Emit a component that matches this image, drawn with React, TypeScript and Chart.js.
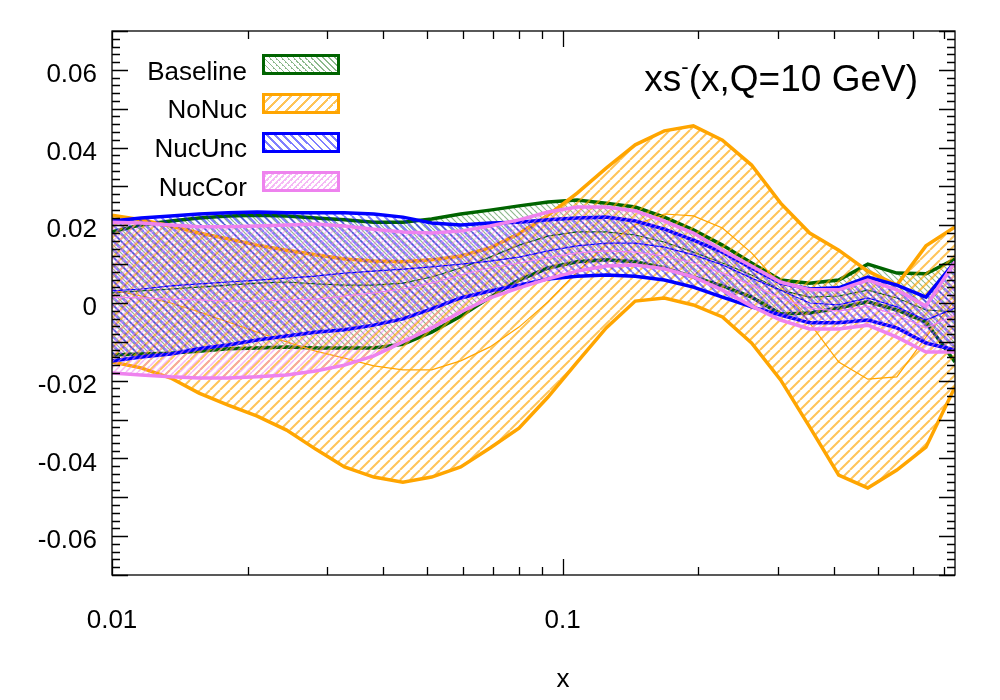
import { useEffect, useRef } from 'react'
import { Chart, registerables } from 'chart.js'

Chart.register(...registerables)

// x grid (log-spaced) and the four bands
const xGrid = [
  0.01, 0.0116, 0.0135, 0.0156, 0.0181, 0.021, 0.0244, 0.0283, 0.0328, 0.0381,
  0.0442, 0.0512, 0.0594, 0.069, 0.08, 0.0928, 0.1077, 0.1249, 0.1449, 0.1681,
  0.195, 0.2262, 0.2625, 0.3045, 0.3532, 0.4098, 0.4754, 0.5515, 0.6399, 0.7423,
]

const baselineUpper = [
  0.0183, 0.0201, 0.0211, 0.0219, 0.0224, 0.0226, 0.0224, 0.0219, 0.0214, 0.0208,
  0.0208, 0.0216, 0.0229, 0.0239, 0.025, 0.026, 0.0265, 0.0257, 0.0247, 0.0221,
  0.0188, 0.0149, 0.0103, 0.0059, 0.0051, 0.0059, 0.01, 0.0077, 0.0075, 0.0113,
]
const baselineLower = [
  -0.0134, -0.0131, -0.0129, -0.0124, -0.0118, -0.0116, -0.0113, -0.0116, -0.0116, -0.0116,
  -0.0106, -0.0075, -0.0034, 0.0015, 0.0059, 0.009, 0.0106, 0.0111, 0.0106, 0.009,
  0.0067, 0.0044, 0.0015, -0.0028, -0.0026, -0.0013, 0.0003, -0.0018, -0.0049, -0.0152,
]
const baselineCentral = [
  0.0026, 0.0031, 0.0036, 0.0041, 0.0046, 0.0051, 0.0054, 0.0049, 0.0046, 0.0046,
  0.0051, 0.0067, 0.009, 0.0118, 0.0149, 0.0172, 0.0183, 0.0183, 0.0175, 0.0157,
  0.0131, 0.0103, 0.0072, 0.0033, 0.0015, 0.0018, 0.0033, 0.0013, -0.0018, -0.0023,
]

const noNucUpper = [
  0.0226, 0.0214, 0.0198, 0.018, 0.0165, 0.0149, 0.0136, 0.0124, 0.0113, 0.0108,
  0.0106, 0.0111, 0.0121, 0.0142, 0.0178, 0.0226, 0.0283, 0.0347, 0.0407, 0.0443,
  0.0456, 0.0419, 0.0355, 0.0257, 0.018, 0.0136, 0.0082, 0.0046, 0.0147, 0.0196,
]
const noNucLower = [
  -0.0152, -0.0167, -0.0193, -0.0232, -0.0263, -0.0291, -0.0327, -0.0376, -0.0422, -0.0448,
  -0.0461, -0.0448, -0.0422, -0.0373, -0.0322, -0.0242, -0.0152, -0.0064, 0.0005, 0.0013,
  -0.0005, -0.0036, -0.0103, -0.0198, -0.0319, -0.0443, -0.0476, -0.043, -0.0371, -0.0216,
]
const noNucCentral = [
  0.0033, 0.0018, 0.0, -0.0023, -0.0049, -0.0075, -0.01, -0.0124, -0.0142, -0.0162,
  -0.0172, -0.0172, -0.0149, -0.0113, -0.0062, 0.0003, 0.008, 0.0149, 0.0201, 0.0229,
  0.0224, 0.0193, 0.0129, 0.0046, -0.0051, -0.0152, -0.0196, -0.019, -0.0088, 0.0008,
]

const nucUncUpper = [
  0.0211, 0.0219, 0.0224, 0.0229, 0.0232, 0.0234, 0.0232, 0.0232, 0.0232, 0.0229,
  0.0221, 0.0206, 0.0201, 0.0206, 0.0208, 0.0214, 0.0219, 0.0221, 0.0211, 0.019,
  0.0162, 0.0131, 0.009, 0.0051, 0.0036, 0.0039, 0.0067, 0.0046, 0.0015, 0.0106,
]
const nucUncLower = [
  -0.0149, -0.0139, -0.0131, -0.0118, -0.0108, -0.0095, -0.0085, -0.0075, -0.0069, -0.0057,
  -0.0041, -0.0015, 0.0013, 0.0031, 0.0046, 0.0062, 0.0069, 0.0072, 0.0069, 0.0059,
  0.0041, 0.0015, -0.001, -0.0031, -0.0051, -0.0051, -0.0044, -0.0064, -0.0103, -0.0121,
]
const nucUncCentral = [
  0.0031, 0.0036, 0.0044, 0.0049, 0.0054, 0.0059, 0.0064, 0.0069, 0.0077, 0.0082,
  0.0087, 0.0093, 0.01, 0.0108, 0.0118, 0.0134, 0.0147, 0.0154, 0.0154, 0.0144,
  0.0124, 0.0098, 0.0064, 0.0033, 0.0, -0.0005, 0.0013, -0.001, -0.0044, -0.0013,
]

const nucCorUpper = [
  0.0208, 0.0206, 0.0201, 0.0196, 0.0196, 0.0198, 0.0201, 0.0203, 0.0198, 0.019,
  0.0183, 0.018, 0.0185, 0.0198, 0.0214, 0.0234, 0.0247, 0.0247, 0.0237, 0.0211,
  0.018, 0.0136, 0.0095, 0.0054, 0.0034, 0.0034, 0.0059, 0.0034, -0.0008, 0.0106,
]
const nucCorLower = [
  -0.018, -0.0185, -0.019, -0.0193, -0.0193, -0.019, -0.0185, -0.0175, -0.016, -0.0136,
  -0.01, -0.0064, -0.0023, 0.0013, 0.0039, 0.0062, 0.0082, 0.0095, 0.0098, 0.0088,
  0.0067, 0.0033, -0.0008, -0.0044, -0.0067, -0.0067, -0.0057, -0.0088, -0.0126, -0.0126,
]
const nucCorCentral = [
  0.0015, 0.0013, 0.001, 0.0008, 0.0005, 0.0005, 0.0008, 0.001, 0.0018, 0.0026,
  0.0036, 0.0051, 0.0072, 0.009, 0.0103, 0.0116, 0.0129, 0.0134, 0.0131, 0.0121,
  0.0103, 0.0077, 0.0046, 0.0013, -0.0013, -0.0021, -0.0008, -0.0031, -0.0064, -0.0031,
]

const yTickValues = [-0.06, -0.04, -0.02, 0, 0.02, 0.04, 0.06]
const xTickLabels = [0.01, 0.1]
const xTickMarks = [
  0.01, 0.02, 0.03, 0.04, 0.05, 0.06, 0.07, 0.08, 0.09,
  0.1, 0.2, 0.3, 0.4, 0.5, 0.6, 0.7,
]

const FONT = '"Liberation Sans", Arial, Helvetica, sans-serif'

const bands = [
  {
    label: 'Baseline', upper: baselineUpper, lower: baselineLower, central: baselineCentral,
    color: '#006400', hatch: 'rgba(0,100,0,0.45)', spacing: 6, hatchWidth: 1.2, forward: false,
  },
  {
    label: 'NoNuc', upper: noNucUpper, lower: noNucLower, central: noNucCentral,
    color: '#FFA500', hatch: 'rgba(255,165,0,0.65)', spacing: 10, hatchWidth: 2, forward: true,
  },
  {
    label: 'NucUnc', upper: nucUncUpper, lower: nucUncLower, central: nucUncCentral,
    color: '#0000FF', hatch: 'rgba(0,0,255,0.5)', spacing: 8, hatchWidth: 2, forward: false,
  },
  {
    label: 'NucCor', upper: nucCorUpper, lower: nucCorLower, central: nucCorCentral,
    color: '#EE82EE', hatch: 'rgba(238,130,238,0.55)', spacing: 6, hatchWidth: 1.5, forward: true,
  },
]

function makeHatch(
  target: CanvasRenderingContext2D,
  color: string,
  spacing: number,
  width: number,
  forward: boolean
) {
  const c = document.createElement('canvas')
  c.width = spacing
  c.height = spacing
  const ctx = c.getContext('2d')!
  ctx.strokeStyle = color
  ctx.lineWidth = width
  ctx.beginPath()
  for (const o of [-spacing, 0, spacing]) {
    if (forward) {
      ctx.moveTo(o, spacing)
      ctx.lineTo(o + spacing, 0)
    } else {
      ctx.moveTo(o, 0)
      ctx.lineTo(o + spacing, spacing)
    }
  }
  ctx.stroke()
  return target.createPattern(c, 'repeat')!
}

// gnuplot-like frame with inward ticks on all four sides
const framePlugin = {
  id: 'frame',
  afterDatasetsDraw(chart: Chart) {
    const { ctx, chartArea: a, scales } = chart
    const xs = scales.x
    const ys = scales.y
    ctx.save()
    ctx.strokeStyle = '#000'
    ctx.lineWidth = 1.3
    ctx.beginPath()
    for (let i = -35; i <= 35; i++) {
      const py = Math.round(ys.getPixelForValue(i * 0.002)) + 0.5
      const len = i % 5 === 0 ? 16 : 8
      ctx.moveTo(a.left, py)
      ctx.lineTo(a.left + len, py)
      ctx.moveTo(a.right, py)
      ctx.lineTo(a.right - len, py)
    }
    for (const v of xTickMarks) {
      const px = Math.round(xs.getPixelForValue(v)) + 0.5
      const len = xTickLabels.includes(v) ? 16 : 8
      ctx.moveTo(px, a.bottom)
      ctx.lineTo(px, a.bottom - len)
      ctx.moveTo(px, a.top)
      ctx.lineTo(px, a.top + len)
    }
    ctx.stroke()
    ctx.strokeRect(a.left, a.top, a.right - a.left, a.bottom - a.top)
    ctx.restore()
  },
}

function cssHatch(color: string, spacing: number, width: number, forward: boolean) {
  const period = spacing / Math.SQRT2
  return `repeating-linear-gradient(${forward ? -45 : 45}deg, ${color} 0 ${width}px, transparent ${width}px ${period}px)`
}

export default function App() {
  const chartRef = useRef<HTMLCanvasElement>(null)
  const chartInstance = useRef<Chart | null>(null)

  useEffect(() => {
    if (!chartRef.current) return
    if (chartInstance.current) chartInstance.current.destroy()
    const ctx = chartRef.current.getContext('2d')
    if (!ctx) return

    const pts = (arr: number[]) => xGrid.map((x, i) => ({ x, y: arr[i] }))
    const datasets: any[] = []
    bands.forEach((b, bi) => {
      const base = datasets.length
      const line = {
        borderColor: b.color,
        pointRadius: 0,
        fill: false,
        tension: 0,
        order: 99 - 10 * bi,
      }
      datasets.push({
        label: b.label + ' band',
        data: pts(b.upper),
        borderColor: 'rgba(0,0,0,0)',
        borderWidth: 0,
        pointRadius: 0,
        fill: { target: base + 2 },
        backgroundColor: makeHatch(ctx, b.hatch, b.spacing, b.hatchWidth, b.forward),
        order: 100 - 10 * bi,
      })
      datasets.push({ ...line, label: b.label + ' upper', data: pts(b.upper), borderWidth: 3.5 })
      datasets.push({ ...line, label: b.label + ' lower', data: pts(b.lower), borderWidth: 3.5 })
      datasets.push({ ...line, label: b.label, data: pts(b.central), borderWidth: 1.2 })
    })

    chartInstance.current = new Chart(ctx, {
      type: 'line',
      data: { datasets },
      options: {
        responsive: false,
        animation: false,
        events: [],
        layout: { padding: { top: 31, right: 45, left: 0, bottom: 0 } },
        plugins: {
          legend: { display: false },
          tooltip: { enabled: false },
        },
        scales: {
          x: {
            type: 'logarithmic',
            min: 0.01,
            max: 0.7423,
            grid: { display: false, drawTicks: false },
            border: { display: false },
            afterBuildTicks: (s: any) => {
              s.ticks = xTickLabels.map((v) => ({ value: v }))
            },
            afterFit: (s: any) => {
              s.height = 125
            },
            ticks: {
              autoSkip: false,
              maxRotation: 0,
              padding: 30,
              color: '#000',
              font: { family: FONT, size: 26 },
              callback: (v: any) => String(v),
            },
          },
          y: {
            type: 'linear',
            min: -0.07,
            max: 0.07,
            grid: { display: false, drawTicks: false },
            border: { display: false },
            afterBuildTicks: (s: any) => {
              s.ticks = yTickValues.map((v) => ({ value: v }))
            },
            afterFit: (s: any) => {
              s.width = 112
            },
            ticks: {
              padding: 15,
              labelOffset: 5,
              color: '#000',
              font: { family: FONT, size: 26 },
              callback: (v: any) => (Number(v) === 0 ? '0' : Number(v).toFixed(2)),
            },
          },
        },
      },
      plugins: [framePlugin],
    })

    return () => {
      if (chartInstance.current) {
        chartInstance.current.destroy()
        chartInstance.current = null
      }
    }
  }, [])

  const legendBaselines = [80, 118.5, 157.5, 196.5]

  return (
    <div
      style={{
        position: 'absolute',
        left: 0,
        top: 0,
        width: 1000,
        height: 700,
        background: '#fff',
        fontFamily: FONT,
        color: '#000',
      }}
    >
      <canvas ref={chartRef} width={1000} height={700} style={{ display: 'block' }}></canvas>

      {bands.map((b, i) => (
        <div key={b.label}>
          <div
            style={{
              position: 'absolute',
              right: 753,
              top: legendBaselines[i] - 23.5,
              fontSize: 26,
              lineHeight: '29px',
              whiteSpace: 'nowrap',
            }}
          >
            {b.label}
          </div>
          <div
            style={{
              position: 'absolute',
              left: 262,
              top: legendBaselines[i] - 26,
              width: 78,
              height: 21,
              boxSizing: 'border-box',
              border: `3px solid ${b.color}`,
              background: cssHatch(b.hatch, b.spacing, b.hatchWidth, b.forward),
            }}
          />
        </div>
      ))}

      <div
        style={{
          position: 'absolute',
          right: 82,
          top: 58,
          fontSize: 37,
          lineHeight: '41px',
          whiteSpace: 'nowrap',
        }}
      >
        xs<span style={{ fontSize: '0.6em', position: 'relative', top: '-0.75em' }}>-</span>
        (x,Q=10 GeV)
      </div>

      <div
        style={{
          position: 'absolute',
          left: 513,
          width: 100,
          top: 664,
          fontSize: 26,
          lineHeight: '29px',
          textAlign: 'center',
        }}
      >
        x
      </div>
    </div>
  )
}
